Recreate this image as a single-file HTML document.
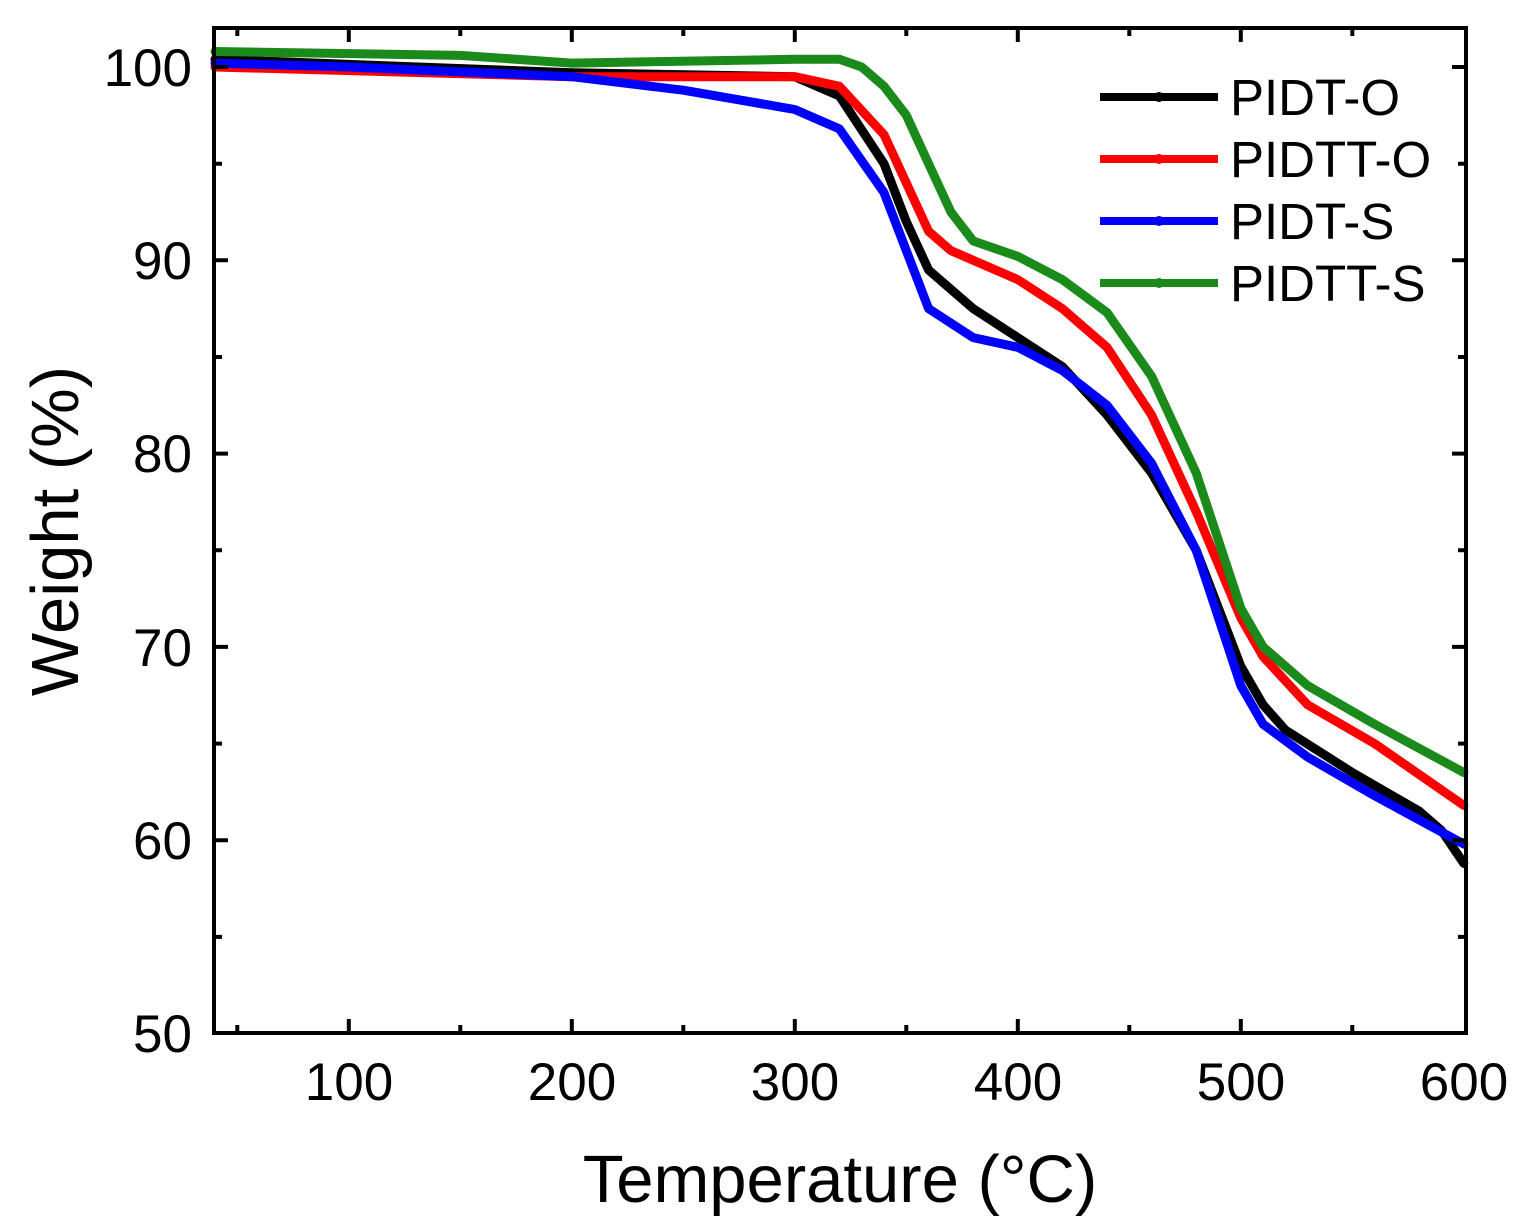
<!DOCTYPE html>
<html><head><meta charset="utf-8"><style>body{margin:0;background:#fff}svg{display:block}</style></head>
<body>
<svg width="1532" height="1226" xmlns="http://www.w3.org/2000/svg" font-family="Liberation Sans, sans-serif">
<rect width="1532" height="1226" fill="#fff"/>
<g fill="none" stroke-width="9" stroke-linejoin="round" stroke-linecap="round">
<polyline stroke="#000" points="215,59.3 571.8,72.8 794.8,76.7 839.4,96 884,163.7 906.3,221.6 928.6,270 973.2,308.6 1017.8,337.6 1062.4,366.6 1107,415 1151.6,473 1196.2,550.3 1218.5,608.2 1240.8,666.2 1263.1,704.9 1285.4,730 1352.3,772.5 1419.2,811.2 1441.5,830.5 1463.8,863.4"/>
<polyline stroke="#f00" points="215,67 571.8,76.7 794.8,76.7 839.4,86.3 884,134.7 906.3,183 928.6,231.3 950.9,250.6 1017.8,279.6 1062.4,308.6 1107,347.3 1151.6,415 1196.2,511.6 1240.8,617.9 1263.1,656.6 1307.7,704.9 1374.6,743.6 1463.8,805.4"/>
<polyline stroke="#00f" points="215,63.1 348.8,67 571.8,76.7 683.3,90.2 794.8,109.5 839.4,128.9 884,192.6 906.3,250.6 928.6,308.6 973.2,337.6 1017.8,347.3 1062.4,370.5 1107,405.3 1151.6,463.3 1196.2,550.3 1218.5,617.9 1240.8,685.6 1263.1,724.2 1307.7,757.1 1374.6,795.7 1463.8,844.1"/>
<polyline stroke="#1a8a1a" points="215,51.5 460.3,55.4 571.8,63.1 794.8,59.3 839.4,59.3 861.7,67 884,86.3 906.3,115.3 928.6,163.7 950.9,212 973.2,241 1017.8,256.4 1062.4,279.6 1107,312.5 1151.6,376.3 1196.2,473 1218.5,540.6 1240.8,608.2 1263.1,646.9 1307.7,685.6 1374.6,724.2 1463.8,772.5"/>
</g>
<rect x="214" y="28" width="1252" height="1005" fill="none" stroke="#000" stroke-width="4"/>
<g stroke="#000" stroke-width="4">
<path d="M237.3,1033v-8M237.3,28v8M348.8,1033v-14M348.8,28v14M460.3,1033v-8M460.3,28v8M571.8,1033v-14M571.8,28v14M683.3,1033v-8M683.3,28v8M794.8,1033v-14M794.8,28v14M906.3,1033v-8M906.3,28v8M1017.8,1033v-14M1017.8,28v14M1129.3,1033v-8M1129.3,28v8M1240.8,1033v-14M1240.8,28v14M1352.3,1033v-8M1352.3,28v8"/>
<path d="M214,936.9h8M1466,936.9h-8M214,840.2h14M1466,840.2h-14M214,743.6h8M1466,743.6h-8M214,646.9h14M1466,646.9h-14M214,550.3h8M1466,550.3h-8M214,453.6h14M1466,453.6h-14M214,357h8M1466,357h-8M214,260.3h14M1466,260.3h-14M214,163.7h8M1466,163.7h-8M214,67h14M1466,67h-14"/>
</g>
<g font-size="53" fill="#000">
<text x="349" y="1100" text-anchor="middle">100</text>
<text x="572" y="1100" text-anchor="middle">200</text>
<text x="795" y="1100" text-anchor="middle">300</text>
<text x="1018" y="1100" text-anchor="middle">400</text>
<text x="1241" y="1100" text-anchor="middle">500</text>
<text x="1464" y="1100" text-anchor="middle">600</text>
<text x="192" y="86" text-anchor="end">100</text>
<text x="192" y="279" text-anchor="end">90</text>
<text x="192" y="472" text-anchor="end">80</text>
<text x="192" y="666" text-anchor="end">70</text>
<text x="192" y="859" text-anchor="end">60</text>
<text x="192" y="1052" text-anchor="end">50</text>
</g>
<text x="840" y="1202" font-size="67" text-anchor="middle">Temperature (°C)</text>
<text transform="translate(78,531) rotate(-90)" font-size="67" text-anchor="middle">Weight (%)</text>
<g font-size="51">
<line x1="1100" y1="97" x2="1218" y2="97" stroke="#000" stroke-width="8"/><circle cx="1159" cy="97" r="5" fill="#000"/><text x="1230" y="115">PIDT-O</text>
<line x1="1100" y1="159" x2="1218" y2="159" stroke="#f00" stroke-width="8"/><circle cx="1159" cy="159" r="5" fill="#f00"/><text x="1230" y="177">PIDTT-O</text>
<line x1="1100" y1="221" x2="1218" y2="221" stroke="#00f" stroke-width="8"/><circle cx="1159" cy="221" r="5" fill="#00f"/><text x="1230" y="239">PIDT-S</text>
<line x1="1100" y1="283" x2="1218" y2="283" stroke="#1a8a1a" stroke-width="8"/><circle cx="1159" cy="283" r="5" fill="#1a8a1a"/><text x="1230" y="301">PIDTT-S</text>
</g>
</svg>
</body></html>
